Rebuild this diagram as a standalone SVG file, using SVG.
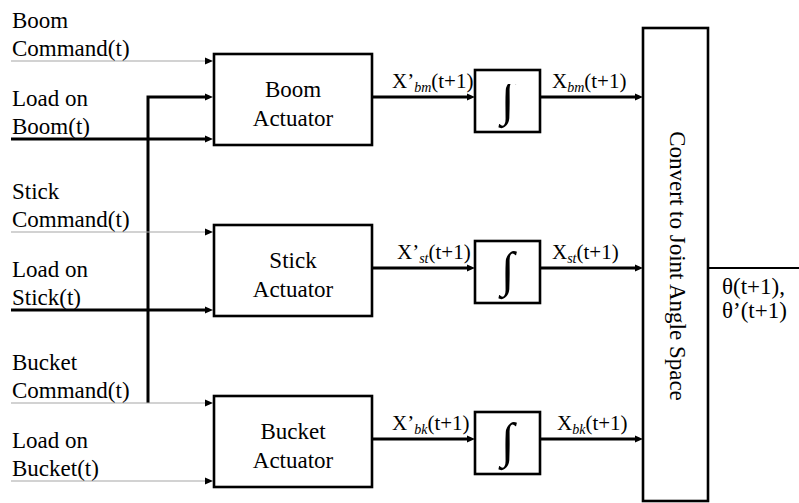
<svg xmlns="http://www.w3.org/2000/svg" width="799" height="503" viewBox="0 0 799 503">
<style>
.t{font-family:"Liberation Serif","Times New Roman",serif;font-size:23px;fill:#000}
.s{font-family:"Liberation Serif","Times New Roman",serif;font-size:21px;fill:#000}
.sub{font-style:italic;font-size:14px}
.box{fill:#fff;stroke:#000;stroke-width:2.6}
.thin{stroke:#a6a6a6;stroke-width:1.2;fill:none}
.thick{stroke:#000;stroke-width:3;fill:none}
.integ{font-family:"Liberation Serif","Times New Roman",serif;font-size:49px;fill:#000}
</style>
<defs>
<marker id="arr" markerUnits="userSpaceOnUse" markerWidth="9" markerHeight="8" refX="0" refY="4" orient="auto" viewBox="0 0 9 8"><path d="M0,0.5 L8,4 L0,7.5 z" fill="#000"/></marker>
<clipPath id="clipJ"><rect x="476" y="84" width="63" height="47"/></clipPath>
</defs>
<rect width="799" height="503" fill="#fff"/>
<g id="connectors">
<line class="thin" x1="11" y1="61" x2="205" y2="61" marker-end="url(#arr)"/>
<line class="thick" x1="11" y1="139" x2="205" y2="139" marker-end="url(#arr)"/>
<polyline class="thick" points="148,403 148,97 205,97" marker-end="url(#arr)"/>
<line class="thin" x1="11" y1="232" x2="205" y2="232" marker-end="url(#arr)"/>
<line class="thick" x1="11" y1="310" x2="205" y2="310" marker-end="url(#arr)"/>
<line class="thin" x1="11" y1="403" x2="205" y2="403" marker-end="url(#arr)"/>
<line class="thin" x1="11" y1="481" x2="205" y2="481" marker-end="url(#arr)"/>
<line class="thick" x1="372" y1="97" x2="467" y2="97" marker-end="url(#arr)"/>
<line class="thick" x1="372" y1="268" x2="467" y2="268" marker-end="url(#arr)"/>
<line class="thick" x1="372" y1="439" x2="467" y2="439" marker-end="url(#arr)"/>
<line class="thick" x1="540" y1="97" x2="635" y2="97" marker-end="url(#arr)"/>
<line class="thick" x1="540" y1="268" x2="635" y2="268" marker-end="url(#arr)"/>
<line class="thick" x1="540" y1="439" x2="635" y2="439" marker-end="url(#arr)"/>
<line x1="708" y1="268" x2="799" y2="268" stroke="#000" stroke-width="2.2"/>
</g>
<g id="input-labels">
<text class="t" x="12" y="28">Boom</text>
<text class="t" x="12" y="56">Command(t)</text>
<text class="t" x="12" y="106">Load on</text>
<text class="t" x="12" y="134">Boom(t)</text>
<text class="t" x="12" y="199">Stick</text>
<text class="t" x="12" y="227">Command(t)</text>
<text class="t" x="12" y="277">Load on</text>
<text class="t" x="12" y="305">Stick(t)</text>
<text class="t" x="12" y="370">Bucket</text>
<text class="t" x="12" y="398">Command(t)</text>
<text class="t" x="12" y="448">Load on</text>
<text class="t" x="12" y="476">Bucket(t)</text>
</g>
<g id="boom-actuator">
<rect class="box" x="214" y="54" width="158" height="91"/>
<text class="t" x="293" y="97" text-anchor="middle">Boom</text>
<text class="t" x="293" y="126" text-anchor="middle">Actuator</text>
</g>
<g id="stick-actuator">
<rect class="box" x="214" y="225" width="158" height="91"/>
<text class="t" x="293" y="268" text-anchor="middle">Stick</text>
<text class="t" x="293" y="297" text-anchor="middle">Actuator</text>
</g>
<g id="bucket-actuator">
<rect class="box" x="214" y="396" width="158" height="91"/>
<text class="t" x="293" y="439" text-anchor="middle">Bucket</text>
<text class="t" x="293" y="468" text-anchor="middle">Actuator</text>
</g>
<g id="boom-integrator">
<rect class="box" x="475" y="70" width="65" height="62"/>
<text class="integ" x="507.5" y="114.5" text-anchor="middle" clip-path="url(#clipJ)">∫</text>
</g>
<g id="stick-integrator">
<rect class="box" x="475" y="241" width="65" height="62"/>
<text class="integ" x="507.5" y="285.5" text-anchor="middle">∫</text>
</g>
<g id="bucket-integrator">
<rect class="box" x="475" y="412" width="65" height="62"/>
<text class="integ" x="507.5" y="456.5" text-anchor="middle">∫</text>
</g>
<g id="signal-labels">
<text class="s" x="392" y="88">X’<tspan class="sub" dy="4">bm</tspan><tspan dy="-4">(t+1)</tspan></text>
<text class="s" x="552" y="88">X<tspan class="sub" dy="4">bm</tspan><tspan dy="-4">(t+1)</tspan></text>
<text class="s" x="397" y="259">X’<tspan class="sub" dy="4">st</tspan><tspan dy="-4">(t+1)</tspan></text>
<text class="s" x="552" y="259">X<tspan class="sub" dy="4">st</tspan><tspan dy="-4">(t+1)</tspan></text>
<text class="s" x="392" y="430">X’<tspan class="sub" dy="4">bk</tspan><tspan dy="-4">(t+1)</tspan></text>
<text class="s" x="557" y="430">X<tspan class="sub" dy="4">bk</tspan><tspan dy="-4">(t+1)</tspan></text>
</g>
<g id="convert">
<rect class="box" x="643" y="28" width="65" height="473"/>
<text class="t" transform="translate(670,266) rotate(90)" text-anchor="middle">Convert to Joint Angle Space</text>
</g>
<g id="output-label">
<text class="t" x="722" y="294">θ(t+1),</text>
<text class="t" x="722" y="318">θ’(t+1)</text>
</g>
</svg>
